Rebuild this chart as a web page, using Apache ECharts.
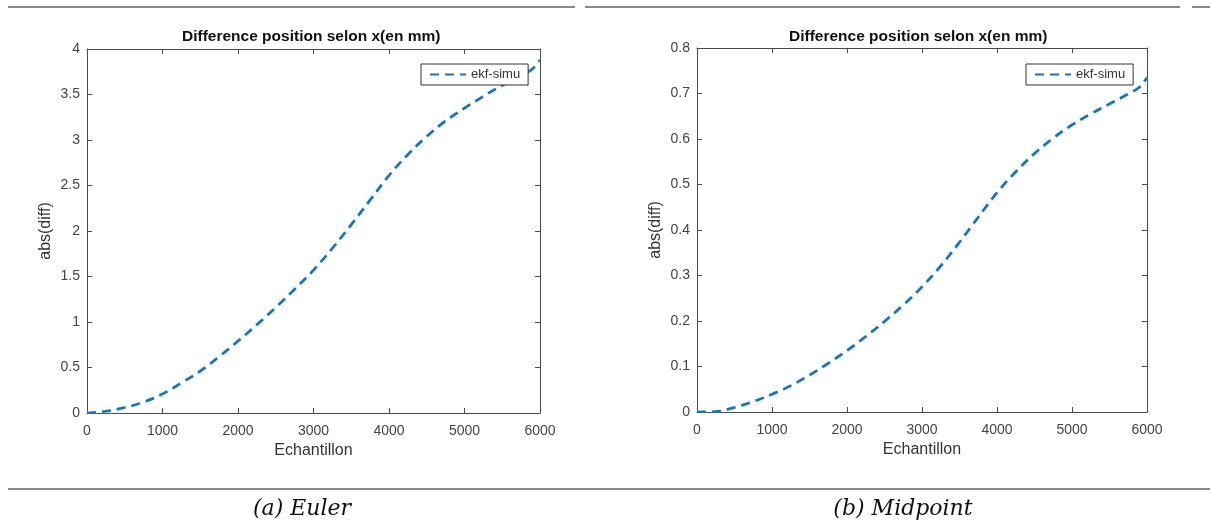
<!DOCTYPE html>
<html>
<head>
<meta charset="utf-8">
<script src="https://cdn.jsdelivr.net/npm/echarts@6/dist/echarts.min.js"></script>
<style>html,body{margin:0;padding:0;background:#fff;}#c{width:1210px;height:524px;}</style>
</head>
<body>
<div id="c"></div>
<script>
// Sample positions (Echantillon)
const samples = [0,250,500,750,1000,1250,1500,1750,2000,2250,2500,2750,3000,3250,3500,3750,4000,4250,4500,4750,5000,5250,5500,5750,5900,6000];
// (a) Euler : abs(diff)
const eulerValues = [0,0.02,0.06,0.12,0.21,0.33,0.46,0.62,0.79,0.97,1.16,1.36,1.57,1.81,2.07,2.34,2.61,2.84,3.04,3.21,3.35,3.48,3.60,3.71,3.78,3.88];
// (b) Midpoint : abs(diff)
const midpointValues = [0,0.001,0.010,0.023,0.039,0.058,0.081,0.107,0.135,0.166,0.199,0.235,0.275,0.321,0.373,0.428,0.482,0.528,0.568,0.602,0.631,0.655,0.677,0.699,0.714,0.735];
const xTicks = [0,1000,2000,3000,4000,5000,6000];
const eulerYTicks = [0,0.5,1,1.5,2,2.5,3,3.5,4];
const midYTicks = [0,0.1,0.2,0.3,0.4,0.5,0.6,0.7,0.8];
const seriesName = 'ekf-simu';
const titleText = 'Difference position selon x(en mm)';
const xName = 'Echantillon';
const yName = 'abs(diff)';
const captions = ['(a) Euler', '(b) Midpoint'];

const FONT = 'Liberation Sans, Arial, sans-serif';
const AX = '#4a4a4a';
const LINE = '#2a6e9f';
const chart = echarts.init(document.getElementById('c'), null, {renderer: 'canvas'});

function pairs(xs, ys){ return xs.map((x,i)=>[x, ys[i]]); }
const tickStyle = {show:true, inside:true, length:5, lineStyle:{color:AX}};
const lineAx = {show:true, onZero:false, lineStyle:{color:AX, width:1}};

function xAxes(gridIndex){
  const mn = xTicks[0], mx = xTicks[xTicks.length-1], iv = xTicks[1]-xTicks[0];
  return [
    {type:'value', gridIndex, position:'bottom', min:mn, max:mx, interval:iv,
     name:xName, nameLocation:'middle', nameGap:30,
     nameTextStyle:{fontFamily:FONT, fontSize:16, color:'#333'},
     axisLine:lineAx, axisTick:tickStyle,
     axisLabel:{show:true, fontFamily:FONT, fontSize:14, color:'#444', margin:11,
       formatter: v => String(v)},
     splitLine:{show:false}},
    {type:'value', gridIndex, position:'top', min:mn, max:mx, interval:iv,
     axisLine:lineAx, axisTick:tickStyle,
     axisLabel:{show:false}, splitLine:{show:false}}
  ];
}
function yAxes(gridIndex, ticks){
  const mn = ticks[0], mx = ticks[ticks.length-1], iv = ticks[1]-ticks[0];
  return [
    {type:'value', gridIndex, position:'left', min:mn, max:mx, interval:iv,
     name:yName, nameLocation:'middle', nameGap:33,
     nameTextStyle:{fontFamily:FONT, fontSize:16, color:'#333'},
     axisLine:lineAx, axisTick:tickStyle,
     axisLabel:{show:true, fontFamily:FONT, fontSize:14, color:'#444', margin:7,
       formatter: v => String(+v.toFixed(2))},
     splitLine:{show:false}},
    {type:'value', gridIndex, position:'right', min:mn, max:mx, interval:iv,
     axisLine:lineAx, axisTick:tickStyle,
     axisLabel:{show:false}, splitLine:{show:false}}
  ];
}
const lineStyle = {color:LINE, width:2.6, type:[9,6],
  shadowColor:'rgba(140,210,245,0.8)', shadowBlur:3};

function legendAt(left){
  return {data:[seriesName], left, top:64, orient:'vertical', padding:[4,8],
     itemWidth:36, itemHeight:14, itemGap:0, borderColor:'#333', borderWidth:1,
     backgroundColor:'#fff', selectedMode:false,
     itemStyle:{opacity:0},
     textStyle:{fontFamily:FONT, fontSize:13, color:'#333'}};
}

const option = {
  backgroundColor:'#fff',
  animation:false,
  title:[
    {text:titleText, left:182, top:29, padding:0,
     textStyle:{fontFamily:FONT, fontSize:15.5, fontWeight:'bold', color:'#111'}},
    {text:titleText, left:789, top:29, padding:0,
     textStyle:{fontFamily:FONT, fontSize:15.5, fontWeight:'bold', color:'#111'}}
  ],
  legend:[legendAt(421), legendAt(1026)],
  grid:[
    {left:87, top:49, width:453, height:364},
    {left:697, top:48, width:450, height:364}
  ],
  xAxis:[...xAxes(0), ...xAxes(1)],
  yAxis:[...yAxes(0, eulerYTicks), ...yAxes(1, midYTicks)],
  series:[
    {name:seriesName, type:'line', xAxisIndex:0, yAxisIndex:0, data:pairs(samples, eulerValues),
     smooth:0.4, symbol:'none', lineStyle, itemStyle:{color:LINE}, z:1},
    {name:seriesName, type:'line', xAxisIndex:2, yAxisIndex:2, data:pairs(samples, midpointValues),
     smooth:0.4, symbol:'none', lineStyle, itemStyle:{color:LINE}, z:1}
  ],
  graphic:[
    {type:'line', shape:{x1:8, y1:7, x2:575, y2:7}, style:{stroke:'#888', lineWidth:2}},
    {type:'line', shape:{x1:585, y1:7, x2:1180, y2:7}, style:{stroke:'#888', lineWidth:2}},
    {type:'line', shape:{x1:1192, y1:7, x2:1210, y2:7}, style:{stroke:'#888', lineWidth:2}},
    {type:'line', shape:{x1:8, y1:489, x2:1210, y2:489}, style:{stroke:'#888', lineWidth:2}},
    {type:'text', x:302, y:509, style:{text:captions[0], fontFamily:'DejaVu Serif', fontStyle:'italic', fontSize:22, fill:'#111', textAlign:'center', textVerticalAlign:'middle'}},
    {type:'text', x:903, y:509, style:{text:captions[1], fontFamily:'DejaVu Serif', fontStyle:'italic', fontSize:22, fill:'#111', textAlign:'center', textVerticalAlign:'middle'}}
  ]
};
chart.setOption(option);
</script>
</body>
</html>
